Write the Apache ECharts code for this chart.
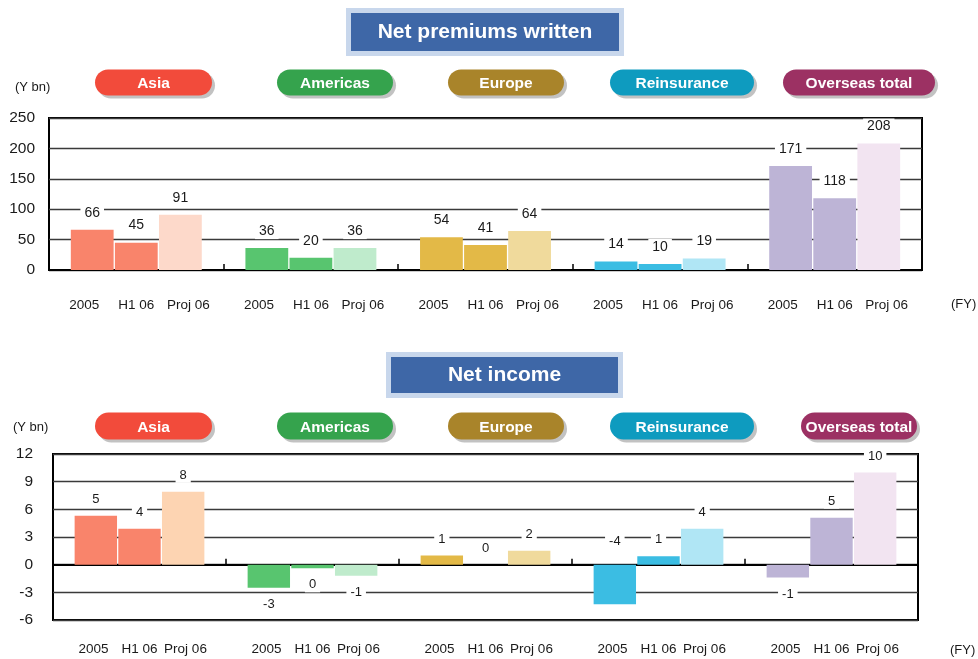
<!DOCTYPE html>
<html>
<head>
<meta charset="utf-8">
<script src="https://cdn.jsdelivr.net/npm/echarts@6/dist/echarts.min.js"></script>
<style>
  html, body { margin: 0; padding: 0; background: #fff; }
  #chart { width: 978px; height: 659px; }
</style>
</head>
<body>
<div id="chart"></div>
<script>
// Segments, periods and values (Y bn)
const segments = ['Asia', 'Americas', 'Europe', 'Reinsurance', 'Overseas total'];
const periods = ['2005', 'H1 06', 'Proj 06'];

const premiums2005   = [66, 36, 54, 14, 171];
const premiumsH106   = [45, 20, 41, 10, 118];
const premiumsProj06 = [91, 36, 64, 19, 208];

const income2005   = [5.3, -2.5, 1.0, -4.3, -1.4];
const incomeH106   = [3.9, -0.4, 0.0, 0.9, 5.1];
const incomeProj06 = [7.9, -1.2, 1.5, 3.9, 10.0];

const premiumAxis = { min: 0, max: 250, interval: 50 };
const incomeAxis  = { min: -6, max: 12, interval: 3 };

const chartTitles = ['Net premiums written', 'Net income'];
const unitLabel = '(Y bn)';
const periodUnit = '(FY)';

// ---- styling ----
const FONT = "'Liberation Sans', Arial, sans-serif";
const TEXT = '#1a1a1a';
const pillColors = ['#f24b3b', '#35a34d', '#a9842a', '#0e9bbf', '#9c3163'];
const premiumPalette = [
  ['#f9846b', '#f9846b', '#fdd9ca'],
  ['#58c56f', '#58c56f', '#bfebcc'],
  ['#e3b947', '#e3b947', '#f0da9c'],
  ['#3bbde3', '#3bbde3', '#b0e6f5'],
  ['#bdb4d6', '#bdb4d6', '#f2e4f1']
];
const incomePalette = premiumPalette.map((row, i) =>
  i === 0 ? ['#f9846b', '#f9846b', '#fdd4b2'] : row);

// pill header boxes: [left, width] per segment, per chart
const pillRows = [
  { top: 71, height: 26, boxes: [[95, 117], [277, 116], [448, 116], [610, 144], [783, 152]] },
  { top: 414, height: 27, boxes: [[95, 117], [277, 116], [448, 116], [610, 144], [801, 116]] }
];

const fmt = v => {
  const r = Math.sign(v) * Math.round(Math.abs(v));
  return r === 0 ? '0' : String(r);
};

// income label that sits above the zero line although the bar is negative
const liftedLabels = ['Reinsurance/2005'];

function barSeries(values, pi, axisIdx, xIdx, palette, fontSize, lifted) {
  return {
    type: 'bar',
    name: periods[pi],
    xAxisIndex: xIdx,
    yAxisIndex: axisIdx,
    barGap: '3%',
    barCategoryGap: '25%',
    data: values.map((v, si) => {
      const lift = lifted.includes(segments[si] + '/' + periods[pi]);
      return {
        value: v,
        itemStyle: { color: palette[si][pi] },
        label: { position: (v >= 0 || lift) ? 'top' : 'bottom', distance: lift ? 16 : 9 }
      };
    }),
    label: {
      show: true,
      formatter: p => fmt(p.value),
      fontFamily: FONT,
      fontSize: fontSize,
      color: TEXT,
      backgroundColor: '#fff',
      padding: [1, 4]
    }
  };
}

function periodRich(tokenWidth, fontSize) {
  const rich = {};
  periods.forEach((p, i) => {
    rich['p' + i] = { width: tokenWidth, align: 'center', fontFamily: FONT, fontSize: fontSize, color: TEXT };
  });
  return rich;
}
const periodFormatter = () => periods.map((p, i) => `{p${i}|${p}}`).join('');

const titles = [];
// chart headings
[[351, 13, 268, 38], [391, 357, 227, 36]].forEach(([l, t, w, h], i) => {
  titles.push({
    left: l, top: t, padding: 0,
    text: `{h|${chartTitles[i]}}`,
    textStyle: {
      rich: {
        h: {
          width: w, height: h, lineHeight: h, align: 'center',
          backgroundColor: '#3e67a7', borderColor: '#c8d7ec', borderWidth: 5,
          color: '#fff', fontFamily: FONT, fontWeight: 'bold', fontSize: 21,
          textShadowColor: 'rgba(0,0,0,0.55)', textShadowOffsetX: 1, textShadowOffsetY: 1
        }
      }
    }
  });
});
// segment pills
pillRows.forEach(row => {
  row.boxes.forEach(([l, w], si) => {
    titles.push({
      left: l, top: row.top, padding: 0,
      text: `{s|${segments[si]}}`,
      textStyle: {
        rich: {
          s: {
            width: w, height: row.height - 3, lineHeight: row.height - 3, padding: [3, 0, 0, 0],
            align: 'center',
            backgroundColor: pillColors[si], borderRadius: row.height / 2,
            shadowColor: 'rgba(120,120,120,0.45)', shadowOffsetX: 3, shadowOffsetY: 3,
            color: '#fff', fontFamily: FONT, fontWeight: 'bold', fontSize: 15.5,
            textShadowColor: '#000', textShadowOffsetX: 1, textShadowOffsetY: 1
          }
        }
      }
    });
  });
});
// unit captions
[[15, 81], [13, 421]].forEach(([l, t]) => titles.push({
  left: l, top: t, padding: 0, text: unitLabel,
  textStyle: { fontFamily: FONT, fontSize: 13, fontWeight: 'normal', color: TEXT }
}));
[[951, 298], [950, 644]].forEach(([l, t]) => titles.push({
  left: l, top: t, padding: 0, text: periodUnit,
  textStyle: { fontFamily: FONT, fontSize: 13, fontWeight: 'normal', color: TEXT }
}));

const splitStyle = { show: true, lineStyle: { color: '#3a3a3a', width: 1.4 } };
const yLabel = margin => ({ fontFamily: FONT, fontSize: 15.5, color: TEXT, margin });

const option = {
  animation: false,
  backgroundColor: '#fff',
  title: titles,
  grid: [
    { left: 49, top: 118, width: 873, height: 152, show: true, borderColor: '#000', borderWidth: 2, backgroundColor: 'transparent' },
    { left: 53, top: 454, width: 865, height: 166, show: true, borderColor: '#000', borderWidth: 2, backgroundColor: 'transparent' }
  ],
  xAxis: [
    {
      gridIndex: 0, type: 'category', data: segments,
      axisLine: { lineStyle: { color: '#000', width: 2 } },
      axisTick: { show: true, inside: true, length: 6, lineStyle: { color: '#000', width: 1.5 } },
      axisLabel: { formatter: periodFormatter, rich: periodRich(52, 13.5), margin: 28, interval: 0, hideOverlap: false }
    },
    {
      gridIndex: 1, type: 'category', data: segments,
      axisLine: { onZero: true, lineStyle: { color: '#000', width: 2 } },
      axisTick: { show: true, inside: true, length: 6, lineStyle: { color: '#000', width: 1.5 } },
      axisLabel: { show: false }
    },
    {
      gridIndex: 1, type: 'category', data: segments, position: 'bottom',
      axisLine: { show: false, onZero: false },
      axisTick: { show: false },
      axisLabel: { formatter: periodFormatter, rich: periodRich(46, 13.5), margin: 22, interval: 0, hideOverlap: false }
    }
  ],
  yAxis: [
    {
      gridIndex: 0, type: 'value', ...premiumAxis,
      axisLine: { show: false }, axisTick: { show: false },
      splitLine: splitStyle, axisLabel: yLabel(14)
    },
    {
      gridIndex: 1, type: 'value', ...incomeAxis,
      axisLine: { show: false }, axisTick: { show: false },
      splitLine: splitStyle, axisLabel: yLabel(20)
    }
  ],
  series: [
    barSeries(premiums2005, 0, 0, 0, premiumPalette, 14, []),
    barSeries(premiumsH106, 1, 0, 0, premiumPalette, 14, []),
    barSeries(premiumsProj06, 2, 0, 0, premiumPalette, 14, []),
    barSeries(income2005, 0, 1, 1, incomePalette, 13, liftedLabels),
    barSeries(incomeH106, 1, 1, 1, incomePalette, 13, liftedLabels),
    barSeries(incomeProj06, 2, 1, 1, incomePalette, 13, liftedLabels)
  ]
};

const chart = echarts.init(document.getElementById('chart'), null, { renderer: 'canvas' });
chart.setOption(option);
</script>
</body>
</html>
